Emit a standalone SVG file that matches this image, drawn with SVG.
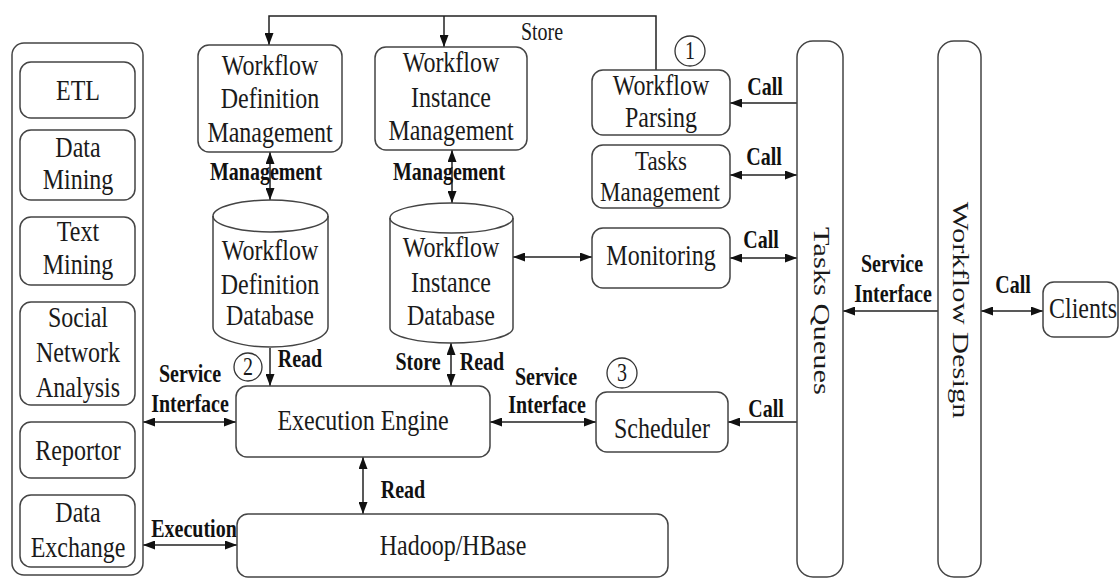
<svg xmlns="http://www.w3.org/2000/svg" width="1120" height="579" viewBox="0 0 1120 579">
<defs>
<marker id="ah" viewBox="0 0 12 9" refX="12" refY="4.5" markerWidth="12" markerHeight="9" markerUnits="userSpaceOnUse" orient="auto-start-reverse"><path d="M0,0 L12,4.5 L0,9 Z" fill="#111"/></marker>
<style>
.box{fill:#fff;stroke:#444;stroke-width:1.5}
.t{font-family:"Liberation Serif","Times New Roman",serif;font-size:24px;fill:#1a1a1a;text-anchor:middle}
.b{font-family:"Liberation Serif","Times New Roman",serif;font-size:20px;font-weight:bold;fill:#111;text-anchor:middle}
.s{font-family:"Liberation Serif","Times New Roman",serif;font-size:20px;fill:#1a1a1a;text-anchor:middle}
.e{fill:none;stroke:#222;stroke-width:1.5}
.one{marker-end:url(#ah)}
.two{marker-start:url(#ah);marker-end:url(#ah)}
.c{fill:#fff;stroke:#333;stroke-width:1.3}
</style>
</defs>
<rect width="1120" height="579" fill="#fff"/>

<g id="connectors">
<path class="e" d="M656,70 V16 H269 V45" marker-end="url(#ah)"/>
<path class="e one" d="M444,16 V47"/>
<path class="e two" d="M270,152 V200"/>
<path class="e two" d="M452,150 V203"/>
<path class="e one" d="M270,348 V386"/>
<path class="e two" d="M451,343 V386"/>
<path class="e two" d="M513,257 H592"/>
<path class="e one" d="M797,103 H730"/>
<path class="e two" d="M797,175 H730"/>
<path class="e two" d="M797,258 H730"/>
<path class="e one" d="M797,422 H728"/>
<path class="e two" d="M490,422 H596"/>
<path class="e two" d="M143,422 H236"/>
<path class="e two" d="M143,545 H237"/>
<path class="e two" d="M363,457 V514"/>
<path class="e one" d="M938,311 H843"/>
<path class="e two" d="M981,311 H1043"/>
<text class="s" transform="translate(542,40) scale(1,1.25)">Store</text>
<text class="b" transform="translate(266,180) scale(1,1.3)">Management</text>
<text class="b" transform="translate(449,180) scale(1,1.3)">Management</text>
<text class="b" transform="translate(765,95) scale(1,1.3)">Call</text>
<text class="b" transform="translate(764,165) scale(1,1.3)">Call</text>
<text class="b" transform="translate(761,248) scale(1,1.3)">Call</text>
<text class="b" transform="translate(766,417) scale(1,1.3)">Call</text>
<text class="b" transform="translate(1013,293) scale(1,1.3)">Call</text>
<text class="b" transform="translate(892,272) scale(1,1.3)">Service</text>
<text class="b" transform="translate(893,302) scale(1,1.3)">Interface</text>
<text class="b" transform="translate(300,367) scale(1,1.3)">Read</text>
<text class="b" transform="translate(190,382) scale(1,1.3)">Service</text>
<text class="b" transform="translate(190,412) scale(1,1.3)">Interface</text>
<text class="b" transform="translate(418,370) scale(1,1.3)">Store</text>
<text class="b" transform="translate(482,370) scale(1,1.3)">Read</text>
<text class="b" transform="translate(546,385) scale(1,1.3)">Service</text>
<text class="b" transform="translate(547,413) scale(1,1.3)">Interface</text>
<text class="b" transform="translate(403,498) scale(1,1.3)">Read</text>
<text class="b" transform="translate(194,537) scale(1,1.3)">Execution</text>
<circle class="c" cx="690" cy="51" r="15"/>
<text class="s" transform="translate(690,59) scale(1,1.25)">1</text>
<circle class="c" cx="248" cy="367" r="14"/>
<text class="s" transform="translate(248,375) scale(1,1.25)">2</text>
<circle class="c" cx="622" cy="373" r="15"/>
<text class="s" transform="translate(622,381) scale(1,1.25)">3</text>
</g>

<g id="apps">
<rect class="box" x="12" y="43" width="131" height="532" rx="12"/>
</g>
<g id="etl">
<rect class="box" x="20" y="62" width="115" height="56" rx="11"/>
<text class="t" transform="translate(78,100) scale(1,1.25)">ETL</text>
</g>
<g id="data-mining">
<rect class="box" x="20" y="130" width="115" height="70" rx="11"/>
<text class="t" transform="translate(78,157) scale(1,1.25)">Data</text>
<text class="t" transform="translate(78,189) scale(1,1.25)">Mining</text>
</g>
<g id="text-mining">
<rect class="box" x="20" y="217" width="115" height="68" rx="11"/>
<text class="t" transform="translate(78,241) scale(1,1.25)">Text</text>
<text class="t" transform="translate(78,274) scale(1,1.25)">Mining</text>
</g>
<g id="sna">
<rect class="box" x="20" y="302" width="115" height="103" rx="11"/>
<text class="t" transform="translate(78,327) scale(1,1.25)">Social</text>
<text class="t" transform="translate(78,362) scale(1,1.25)">Network</text>
<text class="t" transform="translate(78,397) scale(1,1.25)">Analysis</text>
</g>
<g id="reportor">
<rect class="box" x="20" y="422" width="115" height="56" rx="11"/>
<text class="t" transform="translate(78,460) scale(1,1.25)">Reportor</text>
</g>
<g id="data-exchange">
<rect class="box" x="20" y="495" width="115" height="72" rx="11"/>
<text class="t" transform="translate(78,522) scale(1,1.25)">Data</text>
<text class="t" transform="translate(78,557) scale(1,1.25)">Exchange</text>
</g>

<g id="wdm">
<rect class="box" x="198" y="45" width="144" height="107" rx="11"/>
<text class="t" transform="translate(270,75) scale(1,1.25)">Workflow</text>
<text class="t" transform="translate(270,108) scale(1,1.25)">Definition</text>
<text class="t" transform="translate(270,142) scale(1,1.25)">Management</text>
</g>
<g id="wim">
<rect class="box" x="375" y="47" width="152" height="103" rx="11"/>
<text class="t" transform="translate(451,72) scale(1,1.25)">Workflow</text>
<text class="t" transform="translate(451,107) scale(1,1.25)">Instance</text>
<text class="t" transform="translate(451,140) scale(1,1.25)">Management</text>
</g>
<g id="wdd">
<path class="box" d="M213,216 A57.5,16 0 0 1 328,216 V327 A57.5,20 0 0 1 213,327 Z"/>
<path class="e" style="stroke:#444" d="M213,216 A57.5,16 0 0 0 328,216"/>
<text class="t" transform="translate(270,260) scale(1,1.25)">Workflow</text>
<text class="t" transform="translate(270,294) scale(1,1.25)">Definition</text>
<text class="t" transform="translate(270,325) scale(1,1.25)">Database</text>
</g>
<g id="wid">
<path class="box" d="M390,218 A61.5,15 0 0 1 513,218 V328 A61.5,15 0 0 1 390,328 Z"/>
<path class="e" style="stroke:#444" d="M390,218 A61.5,15 0 0 0 513,218"/>
<text class="t" transform="translate(451,257) scale(1,1.25)">Workflow</text>
<text class="t" transform="translate(451,292) scale(1,1.25)">Instance</text>
<text class="t" transform="translate(451,325) scale(1,1.25)">Database</text>
</g>
<g id="parsing">
<rect class="box" x="592" y="70" width="138" height="65" rx="11"/>
<text class="t" transform="translate(661,95) scale(1,1.25)">Workflow</text>
<text class="t" transform="translate(661,127) scale(1,1.25)">Parsing</text>
</g>
<g id="tasks-mgmt">
<rect class="box" x="592" y="145" width="138" height="63" rx="11"/>
<text class="t" style="font-size:23px" transform="translate(661,170) scale(1,1.15)">Tasks</text>
<text class="t" style="font-size:23px" transform="translate(660,201) scale(1,1.15)">Management</text>
</g>
<g id="monitoring">
<rect class="box" x="592" y="228" width="138" height="60" rx="11"/>
<text class="t" transform="translate(661,265) scale(1,1.25)">Monitoring</text>
</g>
<g id="engine">
<rect class="box" x="236" y="386" width="254" height="71" rx="11"/>
<text class="t" transform="translate(363,430) scale(1,1.25)">Execution Engine</text>
</g>
<g id="scheduler">
<rect class="box" x="596" y="392" width="132" height="60" rx="11"/>
<text class="t" transform="translate(662,438) scale(1,1.25)">Scheduler</text>
</g>
<g id="hadoop">
<rect class="box" x="237" y="514" width="431" height="63" rx="11"/>
<text class="t" transform="translate(453,555) scale(1,1.25)">Hadoop/HBase</text>
</g>
<g id="tasks-queues">
<rect class="box" x="797" y="41" width="46" height="536" rx="16"/>
<text class="t" dominant-baseline="central" transform="translate(822,311) rotate(90) scale(1.27,1)">Tasks Queues</text>
</g>
<g id="workflow-design">
<rect class="box" x="938" y="41" width="43" height="536" rx="16"/>
<text class="t" dominant-baseline="central" transform="translate(961,310) rotate(90) scale(1.27,1)">Workflow Design</text>
</g>
<g id="clients">
<rect class="box" x="1043" y="282" width="75" height="55" rx="11"/>
<text class="t" transform="translate(1083,318) scale(1,1.25)">Clients</text>
</g>
</svg>
